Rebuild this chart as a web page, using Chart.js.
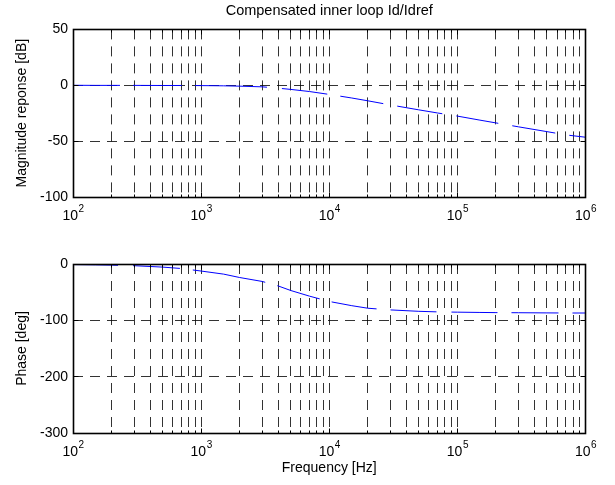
<!DOCTYPE html>
<html>
<head>
<meta charset="utf-8">
<script src="https://cdn.jsdelivr.net/npm/chart.js@4.4.1/dist/chart.umd.min.js"></script>
<style>
  html, body { margin: 0; padding: 0; background: #fff; }
  #wrap { position: relative; width: 615px; height: 485px; overflow: hidden; background: #fff; }
  #c1 { position: absolute; left: 0; top: 0; }
  #c2 { position: absolute; left: 0; top: 240px; }
</style>
</head>
<body>
<div id="wrap">
  <canvas id="c1" width="615" height="240"></canvas>
  <canvas id="c2" width="615" height="245"></canvas>
</div>
<script>
// ---------------- data ----------------
const chartTitle = 'Compensated inner loop Id/Idref';
const magAxisLabel = 'Magnitude reponse [dB]';
const phaseAxisLabel = 'Phase [deg]';
const freqAxisLabel = 'Frequency [Hz]';

const freqHz = [100, 150, 200, 300, 500, 700, 1000, 1500, 2000, 3000, 4000, 5000, 7000,
                10000, 15000, 20000, 30000, 50000, 70000, 100000, 150000, 200000,
                300000, 500000, 700000, 1000000];
const magnitudeDb = [0.0, -0.1, -0.1, -0.1, -0.2, -0.2, -0.3, -0.5, -0.8, -1.4, -2.6, -3.7, -5.6,
                     -8.2, -11.4, -13.9, -17.6, -22.0, -24.8, -27.6, -31.2, -33.7,
                     -37.2, -41.5, -44.4, -46.5];
const phaseDeg = [-1, -1.5, -2, -3, -5.5, -8, -12.5, -18, -24, -31, -39, -47, -57,
                  -66.5, -74, -78.5, -81.5, -84, -85, -85.5, -86, -86.3,
                  -86.5, -86.8, -87, -87];

const xGridValues = [100, 200, 300, 400, 500, 600, 700, 800, 900,
                     1000, 2000, 3000, 4000, 5000, 6000, 7000, 8000, 9000,
                     10000, 20000, 30000, 40000, 50000, 60000, 70000, 80000, 90000,
                     100000, 200000, 300000, 400000, 500000, 600000, 700000, 800000, 900000,
                     1000000];
const xDecades = [100, 1000, 10000, 100000, 1000000];
const xTickBase = '10';
const xTickExponents = ['2', '3', '4', '5', '6'];
const magTicks = [50, 0, -50, -100];
const phaseTicks = [0, -100, -200, -300];
// -----------------------------------------------------------------------

const FONT = "'Liberation Sans', Arial, Helvetica, sans-serif";
Chart.defaults.font.family = FONT;
Chart.defaults.color = '#000';

function alignPx(p) { return Math.round(p - 0.5) + 0.5; }

const framePlugin = {
  id: 'matlabFrame',
  afterDraw(chart) {
    const { ctx, chartArea: a } = chart;
    const xs = chart.scales.x, ys = chart.scales.y;
    const L = alignPx(a.left), R = alignPx(a.right), T = alignPx(a.top), B = alignPx(a.bottom);
    ctx.save();
    ctx.strokeStyle = '#000';
    ctx.setLineDash([]);
    ctx.lineWidth = 1.6;
    ctx.strokeRect(L, T, R - L, B - T);
    ctx.lineWidth = 1;
    ctx.beginPath();
    xGridValues.forEach(v => {
      const px = alignPx(xs.getPixelForValue(v));
      const len = xDecades.includes(v) ? 5 : 3;
      ctx.moveTo(px, B); ctx.lineTo(px, B - len);
      ctx.moveTo(px, T); ctx.lineTo(px, T + len);
    });
    (chart.options.plugins.matlabFrame.yTicks || []).forEach(v => {
      const py = alignPx(ys.getPixelForValue(v));
      ctx.moveTo(L, py); ctx.lineTo(L + 5, py);
      ctx.moveTo(R, py); ctx.lineTo(R - 5, py);
    });
    ctx.stroke();

    // x tick labels: 10 with superscript exponent
    ctx.fillStyle = '#000';
    ctx.textBaseline = 'alphabetic';
    ctx.textAlign = 'left';
    xDecades.forEach((d, i) => {
      const px = xs.getPixelForValue(d);
      ctx.font = '14px ' + FONT;
      const w1 = ctx.measureText(xTickBase).width;
      ctx.font = '10px ' + FONT;
      const w2 = ctx.measureText(xTickExponents[i]).width;
      const start = px - (w1 + w2) / 2;
      ctx.font = '14px ' + FONT;
      ctx.fillText(xTickBase, start, a.bottom + 23);
      ctx.font = '10px ' + FONT;
      ctx.fillText(xTickExponents[i], start + w1 + 0.5, a.bottom + 14.5);
    });
    ctx.restore();
  }
};

function makeChart(canvasId, values, cfg) {
  return new Chart(document.getElementById(canvasId), {
    type: 'line',
    data: {
      datasets: [{
        data: freqHz.map((f, i) => ({ x: f, y: values[i] })),
        borderColor: '#0000ff',
        borderWidth: 1,
        borderDash: cfg.lineDash,
        pointRadius: 0,
        fill: false,
        tension: 0
      }]
    },
    options: {
      responsive: false,
      animation: false,
      events: [],
      layout: { padding: { left: 0, right: 29.5, top: cfg.padTop, bottom: 0 } },
      plugins: {
        legend: { display: false },
        tooltip: { enabled: false },
        title: cfg.title,
        matlabFrame: { yTicks: cfg.yTicks }
      },
      scales: {
        x: {
          type: 'logarithmic',
          min: 100,
          max: 1000000,
          position: 'bottom',
          afterBuildTicks: s => { s.ticks = xGridValues.map(v => ({ value: v, major: xDecades.includes(v) })); },
          ticks: { display: false },
          grid: { color: 'rgba(0,0,0,0.8)', lineWidth: 1, drawTicks: false },
          border: { display: false, dash: [10, 7] },
          title: cfg.xTitle,
          afterFit: s => { s.height = cfg.xHeight; }
        },
        y: {
          min: cfg.yMin,
          max: cfg.yMax,
          afterBuildTicks: s => { s.ticks = cfg.yTicks.map(v => ({ value: v })); },
          ticks: { font: { size: 14 }, color: '#000', padding: 5, autoSkip: false },
          grid: { color: 'rgba(0,0,0,0.8)', lineWidth: 1, drawTicks: false },
          border: { display: false, dash: [10, 7] },
          title: { display: true, text: cfg.yLabel, font: { size: 14 }, color: '#000', padding: { top: 14.2, bottom: 0 } },
          afterFit: s => { s.width = 73; }
        }
      }
    },
    plugins: [framePlugin]
  });
}

makeChart('c1', magnitudeDb, {
  padTop: 0,
  title: { display: true, text: chartTitle, font: { size: 14.5, weight: 'normal' }, color: '#000',
           padding: { top: 2.2, bottom: 9.8 }, fullSize: false },
  xTitle: { display: false },
  xHeight: 43,
  yMin: -100, yMax: 50, yTicks: magTicks,
  yLabel: magAxisLabel,
  lineDash: [47, 13, 49, 13, 72, 15, 45.7, 13.2, 43.6, 14.2, 45.7, 14.2, 42.6, 14.2, 43.6, 14.2, 40, 100]
});

makeChart('c2', phaseDeg, {
  padTop: 24,
  title: { display: false },
  xTitle: { display: true, text: freqAxisLabel, font: { size: 14 }, color: '#000', padding: { top: 0, bottom: 8.6 } },
  xHeight: 52,
  yMin: -300, yMax: 0, yTicks: phaseTicks,
  yLabel: phaseAxisLabel,
  lineDash: [45, 15, 47, 13, 73.5, 12.6, 44.4, 12.3, 45.5, 14, 46, 15, 46, 14, 47, 14, 30, 100]
});
</script>
</body>
</html>
